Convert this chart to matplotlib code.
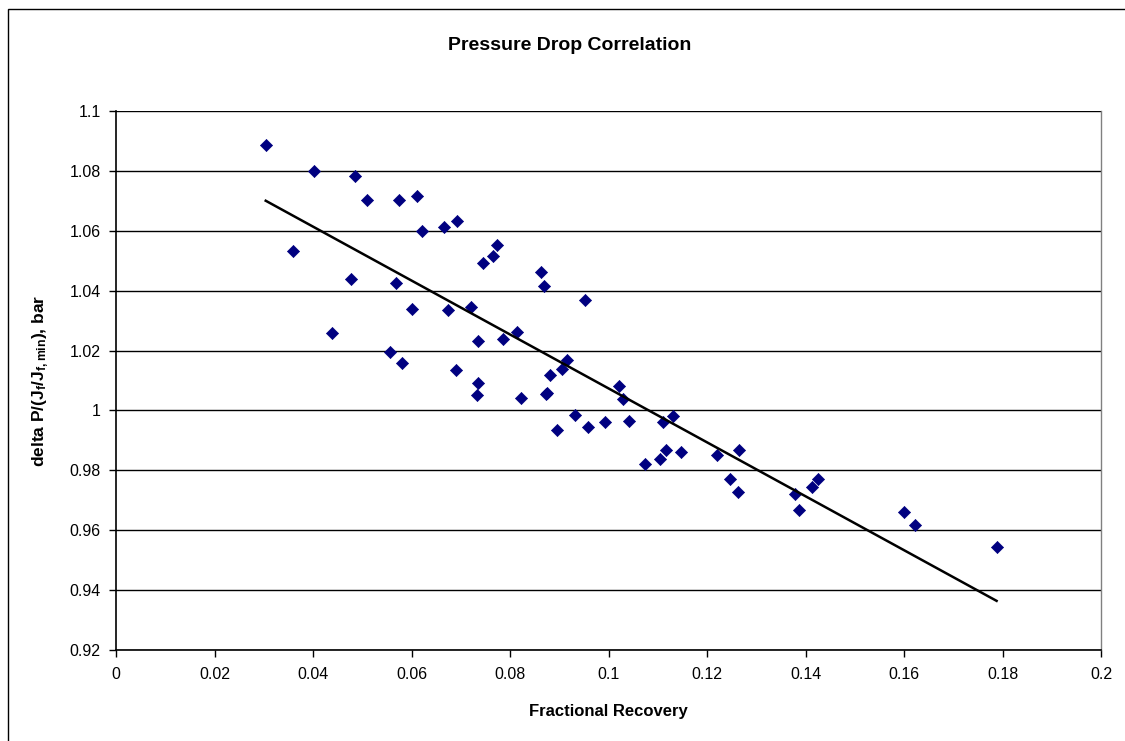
import numpy as np
import matplotlib
matplotlib.use("Agg")
import matplotlib.pyplot as plt
from matplotlib.patches import Rectangle

plt.rcParams['font.family'] = ['Liberation Sans', 'DejaVu Sans']
plt.rcParams['mathtext.fontset'] = 'custom'
plt.rcParams['mathtext.rm'] = 'Liberation Sans'
plt.rcParams['mathtext.bf'] = 'Liberation Sans:bold'
plt.rcParams['mathtext.it'] = 'Liberation Sans:italic'

title = "Pressure Drop Correlation"
xlabel = "Fractional Recovery"
ylabel = r"delta P/(J$_\mathbf{f}$/J$_\mathbf{f,min}$), bar"

recovery = [0.0304, 0.0360, 0.0402, 0.0438, 0.0477, 0.0485, 0.0509, 0.0557, 0.0568, 0.0575,
            0.0581, 0.0602, 0.0611, 0.0622, 0.0667, 0.0675, 0.0691, 0.0693, 0.0720, 0.0732,
            0.0735, 0.0735, 0.0745, 0.0765, 0.0773, 0.0786, 0.0815, 0.0822, 0.0863, 0.0869,
            0.0873, 0.0875, 0.0882, 0.0896, 0.0906, 0.0915, 0.0932, 0.0952, 0.0958, 0.0992,
            0.1021, 0.1030, 0.1042, 0.1074, 0.1104, 0.1110, 0.1116, 0.1130, 0.1147, 0.1221,
            0.1247, 0.1262, 0.1265, 0.1378, 0.1387, 0.1414, 0.1426, 0.1601, 0.1622, 0.1788]
dp_ratio = [1.0887, 1.0531, 1.0799, 1.0259, 1.0439, 1.0784, 1.0702, 1.0196, 1.0424, 1.0702,
            1.0159, 1.0340, 1.0717, 1.0600, 1.0614, 1.0336, 1.0136, 1.0634, 1.0346, 1.0052,
            1.0091, 1.0233, 1.0492, 1.0517, 1.0551, 1.0239, 1.0263, 1.0043, 1.0462, 1.0414,
            1.0054, 1.0058, 1.0117, 0.9936, 1.0140, 1.0170, 0.9984, 1.0370, 0.9944, 0.9960,
            1.0082, 1.0037, 0.9966, 0.9822, 0.9838, 0.9963, 0.9868, 0.9980, 0.9862, 0.9852,
            0.9770, 0.9726, 0.9868, 0.9720, 0.9667, 0.9744, 0.9770, 0.9661, 0.9618, 0.9543]

x_ticks = [0, 0.02, 0.04, 0.06, 0.08, 0.1, 0.12, 0.14, 0.16, 0.18, 0.2]
x_tick_labels = ["0", "0.02", "0.04", "0.06", "0.08", "0.1", "0.12", "0.14", "0.16", "0.18", "0.2"]
y_ticks = [0.92, 0.94, 0.96, 0.98, 1.0, 1.02, 1.04, 1.06, 1.08, 1.1]
y_tick_labels = ["0.92", "0.94", "0.96", "0.98", "1", "1.02", "1.04", "1.06", "1.08", "1.1"]

x = np.array(recovery)
y = np.array(dp_ratio)

fig = plt.figure(figsize=(11.25, 7.41), dpi=100)
fig.patch.set_facecolor('white')
# chart-area border
fig.add_artist(Rectangle((8/1125, -0.1), 1.2, 1 - 9/741 + 0.1, transform=fig.transFigure,
                         fill=False, edgecolor='black', linewidth=1.0))

ax = fig.add_axes([116/1125, 1 - 650/741, (1101 - 116)/1125, (650 - 111)/741])
ax.set_xlim(0, 0.2)
ax.set_ylim(0.92, 1.1)

for yt in y_ticks:
    ax.axhline(yt, color='black', linewidth=1.0, zorder=1)

ax.scatter(x, y, marker='D', s=38, color='#000080', edgecolors='#000080', linewidths=0.5, zorder=3)

coef = np.polyfit(x, y, 1)
xt = np.array([x.min(), x.max()])
ax.plot(xt, np.polyval(coef, xt), color='black', linewidth=1.8, zorder=4)

ax.set_xticks(x_ticks)
ax.set_xticklabels(x_tick_labels, fontsize=11.5)
ax.set_yticks(y_ticks)
ax.set_yticklabels(y_tick_labels, fontsize=11.5)
ax.tick_params(direction='out', length=5, width=1, color='black')
ax.tick_params(axis='x', pad=7)
ax.tick_params(axis='y', pad=6)

for s in ['left', 'bottom']:
    ax.spines[s].set_color('black')
    ax.spines[s].set_linewidth(1.2)
ax.spines['top'].set_visible(False)
ax.spines['right'].set_color('#808080')
ax.spines['right'].set_linewidth(1.0)

ax.set_xlabel(xlabel, fontsize=12, fontweight='bold', labelpad=16)
ax.set_ylabel(ylabel, fontsize=12.5, fontweight='bold', labelpad=13)
fig.text(570/1125, 1 - 45/741, title, fontsize=14, fontweight='bold', ha='center', va='center')

fig.savefig('out.png', dpi=100)
